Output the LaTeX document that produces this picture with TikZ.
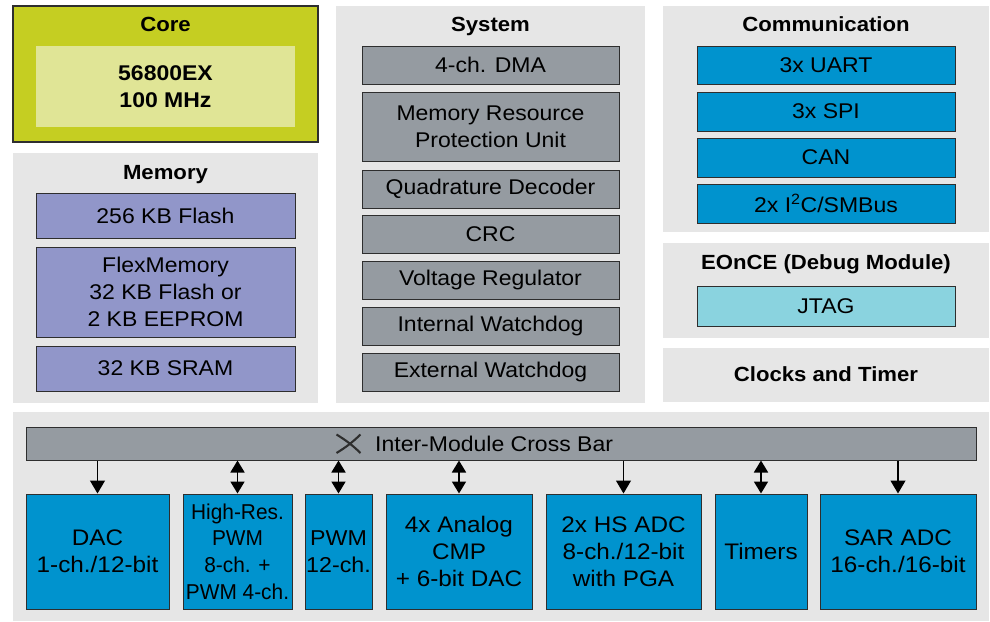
\documentclass[tikz,border=0pt]{standalone}
\usepackage{fontspec}
\setmainfont{Liberation Sans}[FakeStretch=1.08]
\newfontfamily\condfont{Liberation Sans}[FakeStretch=0.97]
\usetikzlibrary{arrows.meta}
\definecolor{panel}{HTML}{E6E6E6}
\definecolor{corefill}{HTML}{C5CE22}
\definecolor{coreinner}{HTML}{E0E596}
\definecolor{memfill}{HTML}{9196C9}
\definecolor{sysfill}{HTML}{959BA1}
\definecolor{bluefill}{HTML}{0093CE}
\definecolor{jtagfill}{HTML}{8AD3DF}
\definecolor{edge}{HTML}{2E2E2E}
\begin{document}
\begin{tikzpicture}[x=1pt,y=-1pt,
  panelbox/.style={fill=panel, draw=none, inner sep=0pt},
  blk/.style={draw=edge, line width=1pt, inner sep=0pt, align=center,
    font=\fontsize{21.3}{27}\selectfont},
  botblk/.style={blk, fill=bluefill, minimum height=115pt,
    font=\fontsize{22.5}{27}\selectfont},
  ttl/.style={anchor=base, inner sep=0pt, font=\bfseries\fontsize{20.5}{24}\selectfont},
  onearrow/.style={line width=1.2pt, -{Triangle[width=15pt,length=13pt]}},
  twoarrow/.style={line width=1.8pt, {Triangle[width=14pt,length=12pt]}-{Triangle[width=14pt,length=12pt]}}
]
\useasboundingbox (0,0) rectangle (990,621);

% ---------- Core ----------
\node[draw=edge, line width=1.5pt, fill=corefill, minimum width=305pt, minimum height=136pt, inner sep=0pt] (core) at (165.5,74) {};
\node[ttl] (coretitle) at (165.5,31.5) {Core};
\node[fill=coreinner, minimum width=259pt, minimum height=81pt, inner sep=0pt, align=center,
  font=\bfseries\fontsize{21.3}{27}\selectfont] (coreinner) at (165.5,86.5) {56800EX\\100 MHz};

% ---------- Memory ----------
\node[panelbox, minimum width=305pt, minimum height=250pt] (mempanel) at (165.5,278) {};
\node[ttl] (memtitle) at (165.5,179) {Memory};
\node[blk, fill=memfill, minimum width=259pt, minimum height=45pt] (flash) at (165.5,215.5) {256 KB Flash};
\node[blk, fill=memfill, minimum width=259pt, minimum height=90pt] (flex) at (165.5,292) {FlexMemory\\32 KB Flash or\\2 KB EEPROM};
\node[blk, fill=memfill, minimum width=259pt, minimum height=45pt] (sram) at (165.5,368.5) {32 KB SRAM};

% ---------- System ----------
\node[panelbox, minimum width=309pt, minimum height=397pt] (syspanel) at (490.5,204.5) {};
\node[ttl] (systitle) at (490.5,31.5) {System};
\node[blk, fill=sysfill, minimum width=257pt, minimum height=38pt] (dma) at (490.5,65) {4-ch. DMA};
\node[blk, fill=sysfill, minimum width=257pt, minimum height=69pt] (mrpu) at (490.5,126.5) {Memory Resource\\Protection Unit};
\node[blk, fill=sysfill, minimum width=257pt, minimum height=38pt] (quad) at (490.5,189) {Quadrature Decoder};
\node[blk, fill=sysfill, minimum width=257pt, minimum height=38pt] (crc) at (490.5,234) {CRC};
\node[blk, fill=sysfill, minimum width=257pt, minimum height=38pt] (volt) at (490.5,280) {Voltage Regulator};
\node[blk, fill=sysfill, minimum width=257pt, minimum height=38pt] (iwd) at (490.5,326) {Internal Watchdog};
\node[blk, fill=sysfill, minimum width=257pt, minimum height=38pt] (ewd) at (490.5,372) {External Watchdog};

% ---------- Communication ----------
\node[panelbox, minimum width=326pt, minimum height=226pt] (companel) at (826,119) {};
\node[ttl] (comtitle) at (826,31.5) {Communication};
\node[blk, fill=bluefill, minimum width=258pt, minimum height=38pt] (uart) at (826,65) {3x UART};
\node[blk, fill=bluefill, minimum width=258pt, minimum height=39pt] (spi) at (826,111.5) {3x SPI};
\node[blk, fill=bluefill, minimum width=258pt, minimum height=39pt] (can) at (826,157.5) {CAN};
\node[blk, fill=bluefill, minimum width=258pt, minimum height=39pt] (i2c) at (826,203.5) {2x I\textsuperscript{2}C/SMBus};

% ---------- EOnCE ----------
\node[panelbox, minimum width=326pt, minimum height=95pt] (eoncepanel) at (826,290.5) {};
\node[ttl] (eoncetitle) at (826,269.3) {EOnCE (Debug Module)};
\node[blk, fill=jtagfill, minimum width=258pt, minimum height=40pt] (jtag) at (826,306) {JTAG};

% ---------- Clocks ----------
\node[panelbox, minimum width=326pt, minimum height=54pt] (clkpanel) at (826,375) {};
\node[ttl] (clktitle) at (826,381.7) {Clocks and Timer};

% ---------- Bottom ----------
\node[panelbox, minimum width=976pt, minimum height=209pt] (botpanel) at (501,516.5) {};
\node[draw=edge, line width=1pt, fill=sysfill, minimum width=950pt, minimum height=33pt, inner sep=0pt] (xbar) at (501,443.5) {};
\draw[line width=2.1pt, edge] (336.5,434.5) to[bend left=6] (360.5,453);
\draw[line width=2.1pt, edge] (360.5,434.5) to[bend left=6] (336.5,453);
\node[anchor=base west, inner sep=0pt, font=\fontsize{21.3}{27}\selectfont] (xbarlabel) at (375,451.7) {Inter-Module Cross Bar};

\node[botblk, minimum width=143pt] (dac) at (97.5,551.5) {DAC\\1-ch./12-bit};
\node[botblk, minimum width=109pt, font=\condfont\fontsize{21.5}{26.7}\selectfont] (hrpwm) at (237.5,551.5) {High-Res.\\PWM\\8-ch. +\\PWM 4-ch.};
\node[botblk, minimum width=67pt, font=\fontsize{21.5}{27}\selectfont] (pwm) at (338.5,551.5) {PWM\\12-ch.};
\node[botblk, minimum width=146pt] (cmp) at (459,551.5) {4x Analog\\CMP\\+ 6-bit DAC};
\node[botblk, minimum width=155pt] (hsadc) at (623.5,551.5) {2x HS ADC\\8-ch./12-bit\\with PGA};
\node[botblk, minimum width=92pt] (timers) at (761,551.5) {Timers};
\node[botblk, minimum width=156pt] (sar) at (898,551.5) {SAR ADC\\16-ch./16-bit};

\foreach \n in {dac,hsadc,sar}
  \draw[onearrow] (xbar.south -| \n.north) -- (\n.north);
\foreach \n in {hrpwm,pwm,cmp,timers}
  \draw[twoarrow] (xbar.south -| \n.north) -- (\n.north);
\end{tikzpicture}
\end{document}
